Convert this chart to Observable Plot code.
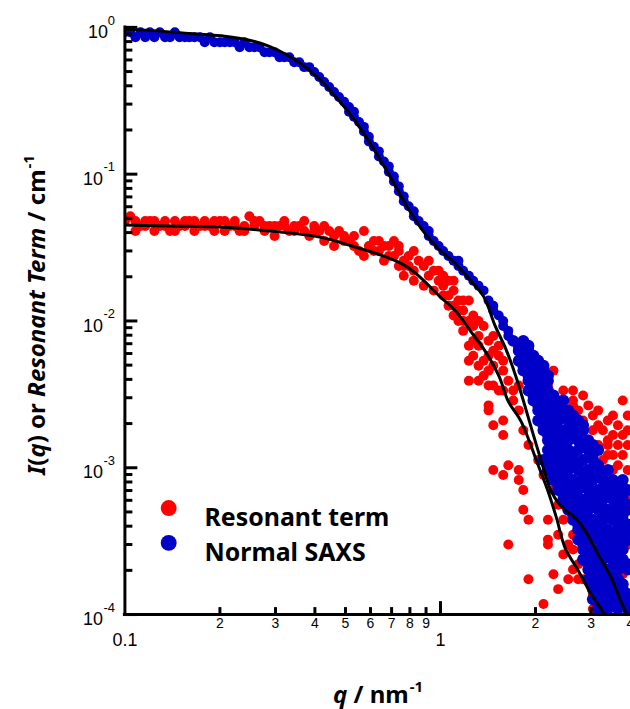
<!DOCTYPE html>
<html><head><meta charset="utf-8">
<script src="https://cdn.jsdelivr.net/npm/d3@7"></script>
<script src="https://cdn.jsdelivr.net/npm/@observablehq/plot@0.6"></script>
<style>
html,body{margin:0;padding:0;background:#fff;overflow:hidden;}
#wrap{position:relative;width:630px;height:709px;overflow:hidden;}
#wrap svg{position:absolute;left:0;top:0;}
.lab{position:absolute;font-family:"Noto Sans",sans-serif;font-weight:bold;font-size:24px;color:#000;white-space:nowrap;line-height:1;}
.lab .sup{font-size:15px;position:relative;top:-11px;margin-left:1px;}
#ylab{left:36px;top:315px;transform:translate(-50%,-50%) rotate(-90deg);}
#xlab{left:378px;top:694px;transform:translate(-50%,-50%);}
</style></head><body>
<div id="wrap">
<div class="lab" id="ylab"><i>I</i>(<i>q</i>) or <i>Resonant Term</i> / cm<span class="sup">-1</span></div>
<div class="lab" id="xlab"><i>q</i> / nm<span class="sup">-1</span></div>
</div>
<script>
// ---- data: [q (nm^-1), intensity (cm^-1)] ----
const resonantPoints = [
[0.100,0.0479],[0.104,0.0517],[0.108,0.0479],[0.108,0.0410],[0.112,0.0443],[0.116,0.0443],[0.116,0.0479],[0.120,0.0479],[0.124,0.0479],[0.124,0.0410],[0.129,0.0443],[0.134,0.0443],[0.134,0.0479],[0.139,0.0410],[0.144,0.0479],[0.144,0.0410],[0.149,0.0443],[0.155,0.0443],[0.155,0.0479],[0.160,0.0479],[0.166,0.0410],[0.166,0.0479],[0.173,0.0443],[0.179,0.0443],[0.179,0.0479],[0.186,0.0443],[0.192,0.0410],[0.192,0.0479],[0.200,0.0479],[0.207,0.0479],[0.207,0.0410],[0.215,0.0443],[0.223,0.0443],[0.223,0.0479],[0.231,0.0410],[0.239,0.0443],[0.239,0.0410],[0.248,0.0517],[0.257,0.0443],[0.257,0.0479],[0.267,0.0479],[0.277,0.0410],[0.277,0.0443],[0.287,0.0443],[0.298,0.0379],[0.298,0.0443],[0.309,0.0443],[0.320,0.0443],[0.320,0.0479],[0.332,0.0410],[0.344,0.0443],[0.344,0.0410],[0.357,0.0443],[0.370,0.0479],[0.370,0.0410],[0.384,0.0379],[0.398,0.0410],[0.398,0.0443],[0.413,0.0410],[0.428,0.0443],[0.428,0.0350],[0.444,0.0410],[0.460,0.0324],[0.460,0.0379],[0.477,0.0410],[0.495,0.0379],[0.495,0.0350],[0.513,0.0350],[0.532,0.0379],[0.532,0.0324],[0.552,0.0300],[0.572,0.0410],[0.572,0.0277],[0.593,0.0324],[0.615,0.0350],[0.615,0.0300],[0.638,0.0300],[0.638,0.0350],[0.662,0.0324],[0.662,0.0257],[0.686,0.0277],[0.686,0.0324],[0.712,0.0350],[0.712,0.0277],[0.738,0.0237],[0.738,0.0300],[0.738,0.0324],[0.765,0.0257],[0.765,0.0203],[0.765,0.0237],[0.793,0.0277],[0.793,0.0237],[0.823,0.0300],[0.823,0.0220],[0.823,0.0188],[0.853,0.0257],[0.885,0.0174],[0.885,0.0237],[0.918,0.0203],[0.918,0.0257],[0.952,0.0220],[0.952,0.0161],[0.987,0.0188],[0.987,0.0220],[1.02,0.0149],[1.02,0.0174],[1.06,0.0188],[1.06,0.0149],[1.10,0.0127],[1.10,0.0161],[1.10,0.0109],[1.14,0.0100],[1.14,0.0118],[1.18,0.0138],[1.18,0.00856],[1.18,0.0118],[1.23,0.0138],[1.23,0.00677],[1.27,0.0109],[1.27,0.00732],[1.32,0.0100],[1.32,0.00791],[1.37,0.00925],[1.42,0.00732],[1.47,0.00791],
[1.06,0.0127],[1.14,0.0138],[1.23,0.0100],[1.27,0.00925],[1.18,0.0100],[1.02,0.0203],[1.10,0.0188],
[1.32,0.00677],[1.27,0.00579],[1.32,0.00496],[1.37,0.00424],[1.53,0.00579],[1.58,0.00536],[1.64,0.00392],[1.77,0.00363],[1.32,0.00392],[1.42,0.00579],[1.53,0.00677],[1.47,0.00626],
[1.23,0.00536],[1.23,0.00392],[1.37,0.00536],[1.42,0.00459],[1.47,0.00496],[1.47,0.00363],[1.58,0.00459],[1.53,0.00336],[1.70,0.00336],[1.83,0.00677],[1.97,0.00579],[2.12,0.00496],[2.28,0.00459],[2.04,0.00392],[2.19,0.00363],[2.28,0.00311],[2.63,0.00336],[1.97,0.00392],[2.36,0.00287],[2.63,0.00287],[2.63,0.00266],[2.73,0.00246],[3.04,0.00227],[3.04,0.00180],[3.27,0.00180],[3.65,0.00195],[3.78,0.00167],[3.39,0.00154],[3.39,0.00143],[3.04,0.00143],[3.52,0.00122],[3.78,0.00122],[3.27,0.00113],[3.52,0.000965],[3.27,0.000826],[3.65,0.000706],[3.78,0.000559],[3.39,0.000350],[3.65,0.000277],[3.52,0.000220],[3.78,0.000188],[3.16,0.000149],[3.27,0.000109],[3.16,0.000109],[3.92,0.00227],[3.78,0.00287],
[2.45,0.00336],[2.83,0.00311],[2.94,0.00266],[3.16,0.00246],[3.39,0.00210],[3.52,0.00227],[2.83,0.00210],[3.16,0.00195],[3.52,0.00167],[3.92,0.00180],[3.65,0.00143],[3.92,0.00143],[3.16,0.00143],[3.39,0.00122],[3.65,0.00104],[3.92,0.000965],[3.78,0.000764],[3.92,0.000605],[3.52,0.000517],[3.78,0.000410],[3.92,0.000300],[3.78,0.000237],
[1.42,0.00363],[1.42,0.00266],[1.42,0.00246],[1.47,0.00195],[1.58,0.00210],[1.58,0.00167],[1.47,0.000965],[1.64,0.00104],[1.58,0.000893],[1.77,0.000965],[1.77,0.000826],[1.83,0.000706],[1.83,0.000517],[1.90,0.000443],[1.64,0.000300],[2.19,0.000324],[1.90,0.000174],[2.28,0.000188],[2.36,0.000149],[2.54,0.000174],[2.12,0.000118],[2.19,0.000443],[2.45,0.000257],[2.36,0.000350],[2.54,0.000300],[2.63,0.000203],[2.73,0.000174],[2.19,0.000300],
[1.58,0.00336],[1.70,0.00287],[1.77,0.00246],[1.83,0.00180],[1.90,0.00143],[2.04,0.00113],[2.12,0.000893],[2.28,0.000706],[2.36,0.000559],[2.45,0.000443],[2.63,0.000350],[2.63,0.000277],[2.73,0.000220],[2.83,0.000174],[3.04,0.000138],[3.04,0.000109],
[2.54,0.00180],[2.83,0.00113],[3.16,0.000706],[2.94,0.000443],[3.39,0.000443],[3.16,0.000277],[3.52,0.000138],[2.73,0.00132],[3.65,0.000379]
];

const saxsBandPoints = [
[0.100,0.925],[0.104,0.925],[0.108,0.856],[0.112,0.925],[0.116,0.856],[0.120,0.925],[0.124,0.856],[0.129,0.925],[0.134,0.856],[0.139,0.856],[0.144,0.925],[0.149,0.856],[0.155,0.856],[0.160,0.856],[0.166,0.856],[0.173,0.856],[0.179,0.791],[0.186,0.856],[0.192,0.791],[0.200,0.791],[0.207,0.791],[0.215,0.791],[0.223,0.791],[0.231,0.732],[0.239,0.791],[0.248,0.732],[0.257,0.732],[0.267,0.732],[0.277,0.677],[0.287,0.677],[0.298,0.677],[0.309,0.626],[0.320,0.626],[0.332,0.626],[0.344,0.579],[0.357,0.579],[0.370,0.536],[0.384,0.536],[0.398,0.496],[0.413,0.459],[0.428,0.424],[0.444,0.392],[0.460,0.363],[0.477,0.336],[0.495,0.311],[0.513,0.287],[0.513,0.266],[0.532,0.266],[0.532,0.246],[0.552,0.227],[0.572,0.210],[0.572,0.195],[0.593,0.180],[0.593,0.167],[0.615,0.154],[0.638,0.143],[0.638,0.132],[0.662,0.122],[0.686,0.113],[0.686,0.104],[0.712,0.0965],[0.712,0.0893],[0.738,0.0826],[0.738,0.0764],[0.765,0.0706],[0.765,0.0654],[0.793,0.0605],[0.823,0.0559],[0.823,0.0517],[0.853,0.0479],[0.885,0.0443],[0.918,0.0410],[0.918,0.0379],[0.952,0.0350],[0.987,0.0324],[1.02,0.0300],[1.06,0.0277],[1.10,0.0257],[1.14,0.0257],[1.14,0.0237],[1.18,0.0220],[1.23,0.0203],[1.27,0.0188],[1.32,0.0174],[1.37,0.0161],[1.42,0.0138],[1.47,0.0127],[1.47,0.0118],[1.53,0.0109],[1.58,0.0100],[1.58,0.00925],[1.64,0.00856],[1.64,0.00791]
];

const saxsCloudPoints = [
[1.70,0.00732],[1.83,0.00732],
[1.77,0.00626],[1.90,0.00626],
[1.77,0.00536],[1.90,0.00536],[2.04,0.00536],
[1.83,0.00459],[1.97,0.00459],[2.12,0.00459],
[1.90,0.00392],[2.04,0.00392],[2.19,0.00392],
[1.90,0.00336],[2.04,0.00336],[2.19,0.00336],
[1.97,0.00287],[2.12,0.00287],[2.28,0.00287],[2.45,0.00287],
[2.04,0.00246],[2.19,0.00246],[2.36,0.00246],[2.54,0.00246],
[2.04,0.00210],[2.19,0.00210],[2.36,0.00210],[2.54,0.00210],[2.73,0.00210],
[2.12,0.00180],[2.28,0.00180],[2.45,0.00180],[2.63,0.00180],[2.83,0.00180],
[2.19,0.00154],[2.36,0.00154],[2.54,0.00154],[2.73,0.00154],[2.94,0.00154],
[2.19,0.00132],[2.36,0.00132],[2.54,0.00132],[2.73,0.00132],[2.94,0.00132],[3.16,0.00132],
[2.12,0.00113],[2.28,0.00113],[2.45,0.00113],[2.63,0.00113],[2.83,0.00113],[3.04,0.00113],
[2.19,0.000965],[2.36,0.000965],[2.54,0.000965],[2.73,0.000965],[2.94,0.000965],[3.16,0.000965],[3.39,0.000965],
[2.28,0.000826],[2.45,0.000826],[2.63,0.000826],[2.83,0.000826],[3.04,0.000826],[3.27,0.000826],[3.52,0.000826],[3.78,0.000826],
[2.36,0.000706],[2.54,0.000706],[2.73,0.000706],[2.94,0.000706],[3.16,0.000706],[3.39,0.000706],[3.65,0.000706],[3.92,0.000706],
[2.45,0.000605],[2.63,0.000605],[2.83,0.000605],[3.04,0.000605],[3.27,0.000605],[3.52,0.000605],[3.78,0.000605],
[2.54,0.000517],[2.73,0.000517],[2.94,0.000517],[3.16,0.000517],[3.39,0.000517],[3.65,0.000517],[3.92,0.000517],
[2.63,0.000443],[2.83,0.000443],[3.04,0.000443],[3.27,0.000443],[3.52,0.000443],[3.78,0.000443],
[2.73,0.000379],[2.94,0.000379],[3.16,0.000379],[3.39,0.000379],[3.65,0.000379],[3.92,0.000379],
[2.73,0.000324],[2.94,0.000324],[3.16,0.000324],[3.39,0.000324],[3.65,0.000324],[3.92,0.000324],
[2.83,0.000277],[3.04,0.000277],[3.27,0.000277],[3.52,0.000277],[3.78,0.000277],
[2.83,0.000237],[3.04,0.000237],[3.27,0.000237],[3.52,0.000237],[3.78,0.000237],
[2.94,0.000203],[3.16,0.000203],[3.39,0.000203],[3.65,0.000203],[3.92,0.000203],
[2.94,0.000174],[3.16,0.000174],[3.39,0.000174],[3.65,0.000174],
[3.04,0.000149],[3.27,0.000149],[3.52,0.000149],[3.78,0.000149],
[3.04,0.000127],[3.27,0.000127],[3.52,0.000127],[3.78,0.000127],
[3.16,0.000109],[3.39,0.000109],[3.65,0.000109],[3.92,0.000109],
[1.77,0.00677],[1.90,0.00677],
[1.83,0.00579],[1.97,0.00579],
[1.83,0.00496],[1.97,0.00496],[2.12,0.00496],
[1.90,0.00424],[2.04,0.00424],[2.19,0.00424],
[1.97,0.00363],[2.12,0.00363],
[1.97,0.00311],[2.12,0.00311],[2.28,0.00311],
[2.04,0.00266],[2.19,0.00266],[2.36,0.00266],
[2.12,0.00227],[2.28,0.00227],[2.45,0.00227],[2.63,0.00227],
[2.12,0.00195],[2.28,0.00195],[2.63,0.00195],[2.83,0.00195],
[2.19,0.00167],[2.36,0.00167],[2.54,0.00167],[2.73,0.00167],
[2.28,0.00143],[2.45,0.00143],[2.83,0.00143],[3.04,0.00143],
[2.28,0.00122],[2.45,0.00122],[2.63,0.00122],[3.04,0.00122],
[2.19,0.00104],[2.36,0.00104],[2.54,0.00104],[2.73,0.00104],[3.16,0.00104],
[2.28,0.000893],[2.45,0.000893],[2.83,0.000893],[3.04,0.000893],[3.27,0.000893],
[2.36,0.000764],[2.54,0.000764],[2.73,0.000764],[2.94,0.000764],[3.39,0.000764],[3.65,0.000764],
[2.45,0.000654],[2.63,0.000654],[3.04,0.000654],[3.27,0.000654],[3.52,0.000654],[3.78,0.000654],
[2.54,0.000559],[2.73,0.000559],[2.94,0.000559],[3.16,0.000559],[3.65,0.000559],[3.92,0.000559],
[2.63,0.000479],[2.83,0.000479],[3.27,0.000479],[3.52,0.000479],[3.78,0.000479],
[2.73,0.000410],[2.94,0.000410],[3.16,0.000410],[3.65,0.000410],[3.92,0.000410],
[2.83,0.000350],[3.04,0.000350],[3.27,0.000350],[3.52,0.000350],[3.78,0.000350],
[2.83,0.000300],[3.27,0.000300],[3.52,0.000300],[3.78,0.000300],
[2.94,0.000257],[3.16,0.000257],[3.39,0.000257],[3.65,0.000257],
[2.94,0.000220],[3.16,0.000220],[3.65,0.000220],[3.92,0.000220],
[3.04,0.000188],[3.27,0.000188],[3.52,0.000188],
[3.04,0.000161],[3.27,0.000161],[3.52,0.000161],[3.78,0.000161],
[3.16,0.000138],[3.39,0.000138],[3.65,0.000138],[3.92,0.000138],
[3.16,0.000118],[3.39,0.000118],[3.65,0.000118],[3.92,0.000118]
];

const saxsFit = [
[0.100,0.969],[0.120,0.954],[0.144,0.925],[0.173,0.897],[0.207,0.869],[0.248,0.817],[0.287,0.743],[0.332,0.636],[0.370,0.544],[0.413,0.445],[0.460,0.346],[0.513,0.262],[0.572,0.189],[0.638,0.130],[0.712,0.0866],[0.793,0.0577],[0.885,0.0404],[0.987,0.0309],[1.10,0.0253],[1.23,0.0194],[1.37,0.0147],[1.49,0.00925],[1.61,0.00646],[1.73,0.00424],[1.83,0.00287],[1.97,0.00167],[2.12,0.000993],[2.24,0.000695],[2.36,0.000578],[2.50,0.000509],[2.67,0.000457],[2.87,0.000373],[3.16,0.000257],[3.47,0.000179],[3.84,0.000107],[4.07,0.0000888]
];

const resonantFit = [
[0.100,0.0450],[0.139,0.0443],[0.200,0.0436],[0.287,0.0410],[0.413,0.0373],[0.524,0.0324],[0.671,0.0273],[0.765,0.0241],[0.853,0.0203],[0.987,0.0149],[1.12,0.0116],[1.25,0.00843],[1.39,0.00616],[1.53,0.00424],[1.64,0.00283],[1.80,0.00207],[2.04,0.00104],[2.19,0.000695],[2.33,0.000457],[2.48,0.000286],[2.73,0.000200],[3.00,0.000138],[3.32,0.000100],[3.45,0.0000885]
];

// ---- axis ticks ----
const xMajorTicks = [0.1, 1];
const xMajorLabels = ["0.1", "1"];
const xMinorTicks = [0.2,0.3,0.4,0.5,0.6,0.7,0.8,0.9,2,3,4];
const xMinorLabels = ["2","3","4","5","6","7","8","9","2","3","4"];
const yMajorTicks = [1, 0.1, 0.01, 0.001, 0.0001];
const yExponents = ["0","-1","-2","-3","-4"];
const yMinorMultipliers = [2,3,4,5,6,7,8,9];

const obj = a => a.map(([q, I]) => ({q, I}));
const red = obj(resonantPoints);
const blueBand = obj(saxsBandPoints);
const blueCloud = obj(saxsCloudPoints);
const yMinorTicks = yMajorTicks.slice(1).flatMap(d => yMinorMultipliers.map(m => d * m));

const W = 633, H = 709, ML = 125, MR = 0, MT = 27, MB = 92;
const FW = W - ML - MR, FH = H - MT - MB;
const tickFont = '"Liberation Sans", Arial, sans-serif';
const narrowFont = '"Liberation Sans Narrow", "Arial Narrow", "Liberation Sans", sans-serif';

const chart = Plot.plot({
  width: W, height: H,
  marginLeft: ML, marginRight: MR, marginTop: MT, marginBottom: MB,
  x: {type: "log", domain: [0.1, 4], axis: null},
  y: {type: "log", domain: [1e-4, 1], axis: null},
  style: {background: "transparent", overflow: "visible"},
  marks: [
    Plot.dot(red, {x: "q", y: "I", r: 5, fill: "#ff0000", clip: true}),
    Plot.dot(blueBand, {x: "q", y: "I", r: 5, fill: "#0000c8", clip: true}),
    Plot.dot(blueCloud, {x: "q", y: "I", r: 6, fill: "#0000c8", clip: true}),
    Plot.line(obj(resonantFit), {x: "q", y: "I", stroke: "#000", strokeWidth: 3, curve: "catmull-rom", clip: true}),
    Plot.line(obj(saxsFit), {x: "q", y: "I", stroke: "#000", strokeWidth: 3, curve: "catmull-rom", clip: true}),
    Plot.ruleX([0.1], {stroke: "#000", strokeWidth: 3, strokeLinecap: "square"}),
    Plot.ruleY([1e-4], {stroke: "#000", strokeWidth: 3, strokeLinecap: "square"}),
    Plot.tickY(yMajorTicks, {y: d => d, stroke: "#000", strokeWidth: 3, insetRight: FW - 13}),
    Plot.tickY(yMinorTicks, {y: d => d, stroke: "#000", strokeWidth: 3, insetRight: FW - 8}),
    Plot.tickX(xMajorTicks.slice(1), {x: d => d, stroke: "#000", strokeWidth: 3, insetTop: FH - 13}),
    Plot.tickX(xMinorTicks, {x: d => d, stroke: "#000", strokeWidth: 3, insetTop: FH - 7}),
    Plot.text(xMinorTicks, {x: d => d, frameAnchor: "bottom", dy: 14, text: (d, i) => xMinorLabels[i], fontSize: 14, fontFamily: narrowFont, fill: "#000"}),
    Plot.text(xMajorTicks, {x: d => d, frameAnchor: "bottom", dy: 32, text: (d, i) => xMajorLabels[i], fontSize: 18, fontFamily: tickFont, fill: "#000"}),
    Plot.text(yMajorTicks.slice(0, 1), {y: d => d, frameAnchor: "left", dx: -17, dy: 5, text: () => "10", textAnchor: "end", fontSize: 18, fontFamily: tickFont, fill: "#000"}),
    Plot.text(yMajorTicks.slice(1), {y: d => d, frameAnchor: "left", dx: -22, dy: 5, text: () => "10", textAnchor: "end", fontSize: 18, fontFamily: tickFont, fill: "#000"}),
    Plot.text(yMajorTicks, {y: d => d, frameAnchor: "left", dx: -10, dy: -7, text: (d, i) => yExponents[i], textAnchor: "end", fontSize: 13, fontFamily: tickFont, fill: "#000"}),
    Plot.dot(["Resonant term"], {frameAnchor: "top-left", dx: 44, dy: 483, r: 8, fill: "#ff0000"}),
    Plot.dot(["Normal SAXS"], {frameAnchor: "top-left", dx: 44, dy: 518, r: 8, fill: "#0000c8"}),
    Plot.text(["Resonant term"], {frameAnchor: "top-left", dx: 80, dy: 483, text: d => d, textAnchor: "start", fontSize: 25, fontWeight: "bold", fontFamily: '"Noto Sans", sans-serif', fill: "#000"}),
    Plot.text(["Normal SAXS"], {frameAnchor: "top-left", dx: 80, dy: 518, text: d => d, textAnchor: "start", fontSize: 25, fontWeight: "bold", fontFamily: '"Noto Sans", sans-serif', fill: "#000"})
  ]
});
document.getElementById("wrap").prepend(chart);
</script>
</body></html>
